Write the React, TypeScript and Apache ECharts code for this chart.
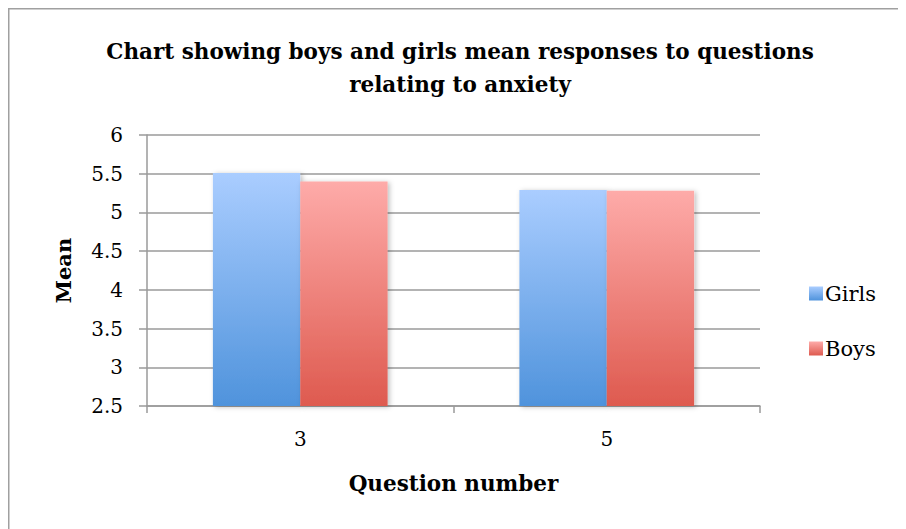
import React, { useEffect, useRef } from "react";
import * as echarts from "echarts";

const questions = ["3", "5"];
const girlsMeans = [5.51, 5.29];
const boysMeans = [5.4, 5.28];
const yMin = 2.5;
const yMax = 6;
const yStep = 0.5;

const titleText = "Chart showing boys and girls mean responses to questions\nrelating to anxiety";
const serif = "'DejaVu Serif', 'Liberation Serif', serif";

const grad = (top: string, bottom: string) =>
  new echarts.graphic.LinearGradient(0, 0, 0, 1, [
    { offset: 0, color: top },
    { offset: 1, color: bottom },
  ]);

const frameLine = { stroke: "#a0a0a0", lineWidth: 1.5 };

export default function App() {
  const ref = useRef<HTMLDivElement>(null);

  useEffect(() => {
    if (!ref.current) return;
    document.body.style.overflow = "hidden";
    const chart = echarts.init(ref.current, undefined, { renderer: "svg" });
    chart.setOption({
      animation: false,
      backgroundColor: "#ffffff",
      graphic: [
        // chart frame: left and top edges
        { type: "line", shape: { x1: 0.75, y1: 0, x2: 0.75, y2: 600 }, style: frameLine, silent: true },
        { type: "line", shape: { x1: 0, y1: 0.75, x2: 1000, y2: 0.75 }, style: frameLine, silent: true },
      ],
      title: {
        text: titleText,
        left: 447,
        top: 22,
        textAlign: "center",
        textStyle: {
          fontFamily: serif,
          fontWeight: "bold",
          fontSize: 21.5,
          lineHeight: 33,
          color: "#000",
        },
      },
      legend: {
        orient: "vertical",
        left: 801,
        top: 275,
        padding: 0,
        itemWidth: 14,
        itemHeight: 14,
        itemGap: 34,
        icon: "rect",
        textStyle: { fontFamily: serif, fontSize: 21, color: "#000", padding: [0, 0, 0, -3] },
        data: ["Girls", "Boys"],
      },
      grid: { left: 139, right: 146, top: 127, bottom: 123 },
      xAxis: {
        type: "category",
        data: questions,
        name: "Question number",
        nameLocation: "middle",
        nameGap: 66,
        nameTextStyle: { fontFamily: serif, fontWeight: "bold", fontSize: 21.5, color: "#000" },
        axisLine: { lineStyle: { color: "#9a9a9a", width: 1.5 } },
        axisTick: { show: true, length: 7, lineStyle: { color: "#9a9a9a", width: 1.5 } },
        axisLabel: { fontFamily: serif, fontSize: 20, color: "#000", margin: 23 },
      },
      yAxis: {
        type: "value",
        min: yMin,
        max: yMax,
        interval: yStep,
        name: "Mean",
        nameLocation: "middle",
        nameGap: 73,
        nameRotate: 90,
        nameTextStyle: { fontFamily: serif, fontWeight: "bold", fontSize: 21, color: "#000" },
        axisLine: { show: true, lineStyle: { color: "#9a9a9a", width: 1.5 } },
        axisTick: { show: true, length: 8, lineStyle: { color: "#9a9a9a", width: 1.5 } },
        axisLabel: {
          fontFamily: serif,
          fontSize: 20,
          color: "#000",
          margin: 24,
          formatter: (v: number) => String(v),
        },
        splitLine: { show: true, lineStyle: { color: "#9a9a9a", width: 1.5 } },
      },
      series: [
        {
          name: "Girls",
          type: "bar",
          data: girlsMeans,
          barGap: "0%",
          barCategoryGap: "43%",
          itemStyle: {
            color: grad("#aacdff", "#4f93dc"),
            shadowColor: "rgba(0,0,0,0.25)",
            shadowBlur: 5,
            shadowOffsetX: 2,
            shadowOffsetY: 1,
          },
        },
        {
          name: "Boys",
          type: "bar",
          data: boysMeans,
          itemStyle: {
            color: grad("#feaba9", "#de5a4f"),
            shadowColor: "rgba(0,0,0,0.25)",
            shadowBlur: 5,
            shadowOffsetX: 2,
            shadowOffsetY: 1,
          },
        },
      ],
    });
    return () => {
      chart.dispose();
      document.body.style.overflow = "";
    };
  }, []);

  return <div ref={ref} style={{ width: 898, height: 521 }} />;
}
